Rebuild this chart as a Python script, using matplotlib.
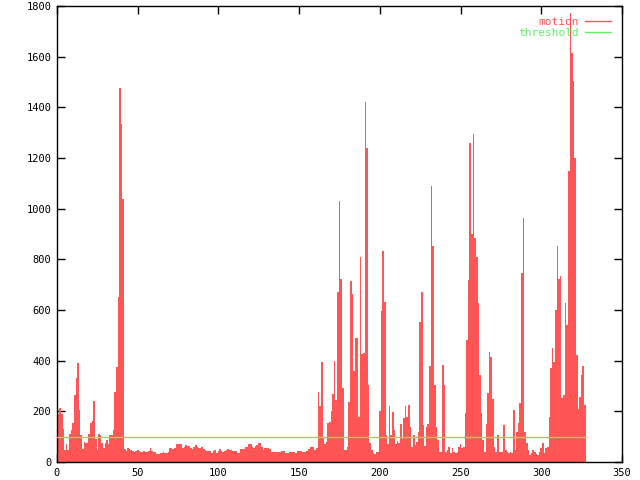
import numpy as np
import matplotlib
matplotlib.use("Agg")
import matplotlib.pyplot as plt
from matplotlib.lines import Line2D

# motion value per second
motion = [
    254, 190, 214, 190, 130, 47, 71, 47, 110, 126,
    155, 264, 330, 392, 205, 107, 50, 80, 74, 74,
    110, 153, 163, 241, 89, 47, 110, 107, 74, 54,
    74, 87, 70, 107, 107, 126, 278, 376, 653, 1475,
    1334, 1038, 50, 45, 54, 50, 47, 45, 40, 45,
    47, 45, 40, 40, 42, 40, 38, 42, 54, 45,
    40, 38, 32, 32, 37, 36, 38, 37, 36, 38,
    54, 55, 52, 54, 71, 72, 70, 71, 54, 60,
    67, 63, 63, 55, 50, 58, 67, 60, 54, 57,
    60, 52, 48, 45, 45, 45, 37, 42, 47, 37,
    45, 50, 45, 40, 44, 47, 50, 47, 47, 43,
    43, 43, 37, 37, 51, 51, 51, 58, 58, 70,
    70, 60, 54, 63, 68, 74, 74, 60, 47, 56,
    56, 56, 50, 38, 38, 38, 38, 38, 38, 45,
    45, 45, 37, 34, 38, 40, 40, 40, 37, 43,
    43, 43, 38, 38, 38, 42, 50, 58, 58, 58,
    47, 54, 278, 220, 396, 100, 71, 80, 153, 159,
    203, 267, 400, 245, 672, 1030, 722, 291, 47, 47,
    60, 238, 714, 665, 360, 491, 490, 176, 810, 425,
    432, 1423, 1241, 304, 74, 47, 37, 32, 41, 40,
    200, 597, 834, 633, 107, 71, 221, 107, 196, 126,
    71, 84, 74, 150, 89, 175, 221, 179, 225, 140,
    60, 107, 67, 80, 120, 554, 672, 146, 63, 137,
    150, 379, 1090, 853, 304, 140, 87, 41, 41, 383,
    304, 41, 47, 60, 34, 54, 41, 37, 41, 60,
    71, 54, 60, 192, 482, 718, 1258, 900, 1295, 883,
    810, 626, 343, 192, 87, 41, 150, 274, 436, 413,
    250, 60, 41, 107, 41, 41, 41, 146, 47, 41,
    37, 41, 37, 205, 47, 120, 155, 232, 747, 962,
    120, 74, 47, 28, 37, 47, 41, 32, 28, 41,
    54, 74, 34, 54, 60, 179, 370, 449, 396, 600,
    853, 721, 734, 251, 264, 626, 541, 1149, 1774, 1613,
    1502, 1200, 422, 208, 258, 343, 379, 225,
]
threshold = 100
x_ticks = [0, 50, 100, 150, 200, 250, 300, 350]
y_ticks = [0, 200, 400, 600, 800, 1000, 1200, 1400, 1600, 1800]

red = "#ff5555"
green = "#66ee66"
mono = "DejaVu Sans Mono"

x = np.arange(len(motion))

fig = plt.figure(figsize=(6.4, 4.8), dpi=100)
ax = fig.add_axes([57 / 640, 18 / 480, 565 / 640, 456 / 480])

ax.bar(x, motion, width=1.0, color=red, linewidth=0, zorder=2)
ax.plot(x, [threshold] * len(x), color=green, linewidth=1, zorder=3)

ax.set_xlim(0, 350)
ax.set_ylim(0, 1800)
ax.set_xticks(x_ticks)
ax.set_yticks(y_ticks)
ax.tick_params(direction="in", length=6, width=1, top=True, right=True,
               labelsize=7.5, pad=4)
for lbl in ax.get_xticklabels() + ax.get_yticklabels():
    lbl.set_family(mono)
for s in ax.spines.values():
    s.set_linewidth(1)

handles = [Line2D([], [], color=red, lw=1), Line2D([], [], color=green, lw=1)]
leg = ax.legend(handles, ["motion", "threshold"], loc="upper right",
                frameon=False, markerfirst=False, handlelength=2.3,
                handletextpad=0.6, labelspacing=0.05, borderaxespad=0.6,
                prop={"family": mono, "size": 8})
for t, c in zip(leg.get_texts(), [red, green]):
    t.set_color(c)
leg.set_zorder(1)

fig.savefig("out.png", dpi=100)
